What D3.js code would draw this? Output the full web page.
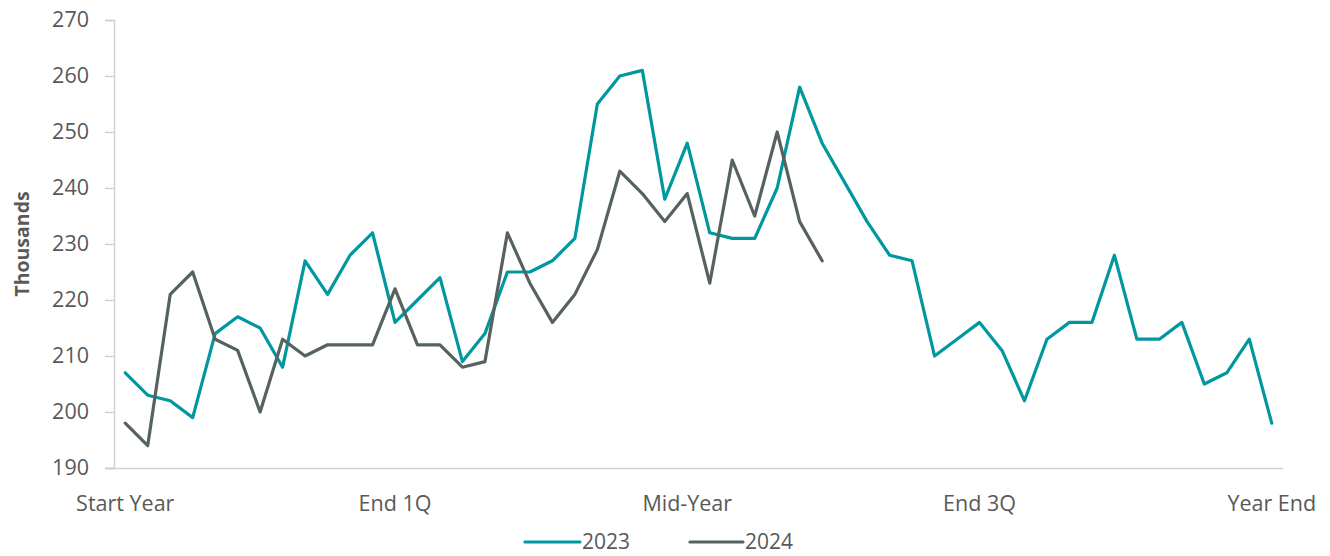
<!DOCTYPE html>
<html>
<head>
<meta charset="utf-8">
<script src="https://cdn.jsdelivr.net/npm/d3@7"></script>
<style>
  html, body { margin: 0; padding: 0; background: #fff; }
  svg { display: block; font-family: "Open Sans", "Noto Sans", sans-serif; }
</style>
</head>
<body>
<svg id="chart" width="1330" height="556"></svg>
<script>
// Weekly values (thousands), 52 weeks per year
const weeks = d3.range(52);
const values2023 = [207, 203, 202, 199, 214, 217, 215, 208, 227, 221, 228, 232, 216, 220, 224, 209,
  214, 225, 225, 227, 231, 255, 260, 261, 238, 248, 232, 231, 231, 240, 258, 248, 241, 234, 228, 227,
  210, 213, 216, 211, 202, 213, 216, 216, 228, 213, 213, 216, 205, 207, 213, 198];
const values2024 = [198, 194, 221, 225, 213, 211, 200, 213, 210, 212, 212, 212, 222, 212, 212, 208,
  209, 232, 223, 216, 221, 229, 243, 239, 234, 239, 223, 245, 235, 250, 234, 227];
const tickWeeks = [0, 12, 25, 38, 51];
const tickLabels = ["Start Year", "End 1Q", "Mid-Year", "End 3Q", "Year End"];
const yTicks = [190, 200, 210, 220, 230, 240, 250, 260, 270];
const seriesNames = ["2023", "2024"];
const colors = ["#00979f", "#566260"];

const svg = d3.select("#chart");
const plot = { left: 114, right: 1283, top: 20, bottom: 468 };

const x = d3.scaleBand().domain(weeks).range([plot.left, plot.right]);
const y = d3.scaleLinear().domain([190, 270]).range([plot.bottom, plot.top]);

const textColor = "#595959";
const axisColor = "#d0d0d0";
const fontSize = 21.5;

// Y axis
const yAxis = svg.append("g")
  .attr("transform", `translate(${plot.left},0)`)
  .call(d3.axisLeft(y).tickValues(yTicks).tickSize(9).tickPadding(16));
yAxis.select(".domain").attr("stroke", axisColor).attr("stroke-width", 1.5);
yAxis.selectAll(".tick line").attr("stroke", axisColor).attr("stroke-width", 1.5);
yAxis.selectAll(".tick text").attr("fill", textColor).attr("font-size", fontSize)
  .attr("font-family", "'Open Sans', sans-serif");

// X axis
const xAxis = svg.append("g")
  .attr("transform", `translate(0,${plot.bottom})`)
  .call(d3.axisBottom(x).tickValues(tickWeeks).tickFormat(d => tickLabels[tickWeeks.indexOf(d)])
    .tickSize(0).tickPadding(28));
xAxis.select(".domain").attr("stroke", axisColor).attr("stroke-width", 1.5)
  .attr("d", `M${plot.left - 9},0.5H${plot.right}`);
xAxis.selectAll(".tick text").attr("fill", textColor).attr("font-size", fontSize)
  .attr("font-family", "'Open Sans', sans-serif");

// Y axis title
svg.append("text")
  .attr("transform", `translate(29,${(plot.top + plot.bottom) / 2}) rotate(-90)`)
  .attr("text-anchor", "middle")
  .attr("fill", textColor)
  .attr("font-size", 19.5)
  .attr("font-weight", "bold")
  .text("Thousands");

// Lines
const line = d3.line()
  .x((d, i) => x(i) + x.bandwidth() / 2)
  .y(d => y(d));

[values2023, values2024].forEach((vals, k) => {
  svg.append("path")
    .datum(vals)
    .attr("fill", "none")
    .attr("stroke", colors[k])
    .attr("stroke-width", 3.2)
    .attr("stroke-linejoin", "round")
    .attr("stroke-linecap", "round")
    .attr("d", line);
});

// Legend
const legendItems = [{ x0: 525, x1: 580 }, { x0: 690, x1: 743 }];
const legend = svg.append("g").attr("transform", "translate(0,542)");
seriesNames.forEach((name, k) => {
  legend.append("line")
    .attr("x1", legendItems[k].x0).attr("x2", legendItems[k].x1)
    .attr("y1", 0).attr("y2", 0)
    .attr("stroke", colors[k]).attr("stroke-width", 3.2)
    .attr("stroke-linecap", "round");
  legend.append("text")
    .attr("x", legendItems[k].x1 + 2)
    .attr("y", 0)
    .attr("dy", "0.35em")
    .attr("fill", textColor)
    .attr("font-size", 21)
    .text(name);
});
</script>
</body>
</html>
